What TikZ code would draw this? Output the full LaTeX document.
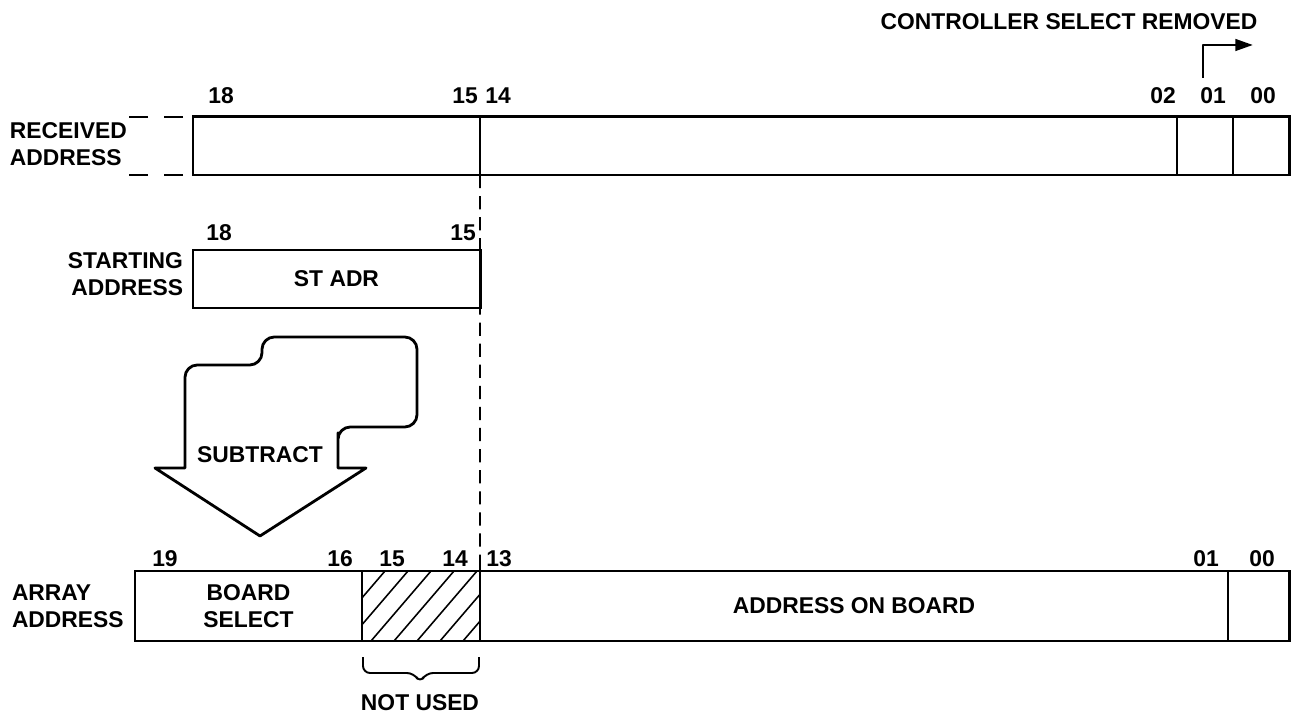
\documentclass[tikz,border=0pt]{standalone}
\usepackage{fontspec}
\setmainfont{Liberation Sans}
\usetikzlibrary{arrows.meta, fit, calc}

\begin{document}
\begin{tikzpicture}[
    x=0.02cm, y=-0.02cm,
    font=\fontsize{13}{15.5}\selectfont\bfseries,
    every node/.style={inner sep=0pt, outer sep=0pt},
    cell/.style={draw, line width=1.1pt},
    frame/.style={draw, line width=1.7pt},
    num/.style={anchor=center},
    guide/.style={line width=1.0pt, dash pattern=on 7.5pt off 4.5pt},
    lead/.style={line width=1.0pt, dash pattern=on 10.8pt off 9pt},
    hatch/.style={line width=0.9pt},
    thickline/.style={line width=1.6pt, line join=round},
  ]
    \useasboundingbox (0,0) rectangle (1294,715);

    % received address
    \node[cell, fit={(193,117) (480,175)}] (rhi) {};
    \node[cell, fit={(480,117) (1177,175)}] (rmid) {};
    \node[cell, fit={(1177,117) (1233,175)}] (r01) {};
    \node[cell, fit={(1233,117) (1289,175)}] (r00) {};
    \node[frame, fit=(rhi)(r00)] (recv) {};
    \node[anchor=west, align=left] (recvlbl) at (10,144) {RECEIVED\\ADDRESS};
    \coordinate (dtop) at (125,117);
    \coordinate (dbot) at (125,175);
    \draw[lead] ($(rhi.north west)+(-10,0)$) -- (dtop);
    \draw[lead] ($(rhi.south west)+(-10,0)$) -- (dbot);

    \node[num] (n18a) at (221,96) {18};
    \node[num] (n15a) at (465,96) {15};
    \node[num] (n14a) at (498,96) {14};
    \node[num] (n02a) at (1163,96) {02};
    \node[num] (n01a) at (1213,96) {01};
    \node[num] (n00a) at (1263,96) {00};

    \node (ctl) at (1069,22) {CONTROLLER SELECT REMOVED};
    \coordinate (cfoot) at (1203,78);
    \coordinate (cbend) at (1203,45);
    \coordinate (ctip) at (1253,45);
    \draw[thickline, -{Triangle[length=10pt, width=6.5pt]}] (cfoot) -- (cbend) -- (ctip);

    % starting address
    \node[frame, fit={(193,250) (480,308)}] (stadr) {};
    \node at (stadr.center) {ST ADR};
    \node[anchor=east, align=right] (stlbl) at (183,274) {STARTING\\ADDRESS};
    \node[num] (n18b) at (219,233) {18};
    \node[num] (n15b) at (463,233) {15};

    % subtract arrow
    \draw[thickline] (185,420) [rounded corners=7pt] -- (185,365) -- (262,365)
      -- (262,337) -- (417,337) -- (417,427) -- (338,427) -- (338,445)
      [sharp corners] -- (338,468) -- (366,468) -- (260,536) -- (155,468)
      -- (185,468) -- cycle;
    \node (sub) at (260,455) {SUBTRACT};

    % array address
    \node[cell, fit={(135,571) (362,641)}] (abrd) {};
    \node[cell, fit={(362,571) (480,641)}] (ahat) {};
    \node[cell, fit={(480,571) (1228,641)}] (aon) {};
    \node[cell, fit={(1228,571) (1289,641)}] (a00) {};
    \node[frame, fit=(abrd)(a00)] (arr) {};
    \begin{scope}
      \clip (ahat.south west) rectangle (ahat.north east);
      \foreach \i in {-60,-37,...,120}
        \draw[hatch] (362+\i,641) -- (422+\i,571);
    \end{scope}
    \draw[cell] (ahat.south west) rectangle (ahat.north east);
    \node[align=center] at (abrd.center) {BOARD\\SELECT};
    \node at (aon.center) {ADDRESS ON BOARD};
    \node[anchor=west, align=left] (arrlbl) at (12,606) {ARRAY\\ADDRESS};

    \node[num] (n19c) at (165,559) {19};
    \node[num] (n16c) at (340,559) {16};
    \node[num] (n15c) at (392,559) {15};
    \node[num] (n14c) at (455,559) {14};
    \node[num] (n13c) at (499,559) {13};
    \node[num] (n01c) at (1206,559) {01};
    \node[num] (n00c) at (1262,559) {00};

    % guide from bit 15/14 boundary down to the array
    \draw[guide] (rhi.south east) -- (ahat.north east);
    \draw[cell] (ahat.north east) -- ++(0,-9);

    % not used
    \draw[cell, rounded corners=4pt] (363,657) -- (363,673)
      -- (414,673) -- (420,683) -- (426,673) -- (479,673) -- (479,657);
    \node (notused) at (420,703) {NOT USED};
\end{tikzpicture}
\end{document}
